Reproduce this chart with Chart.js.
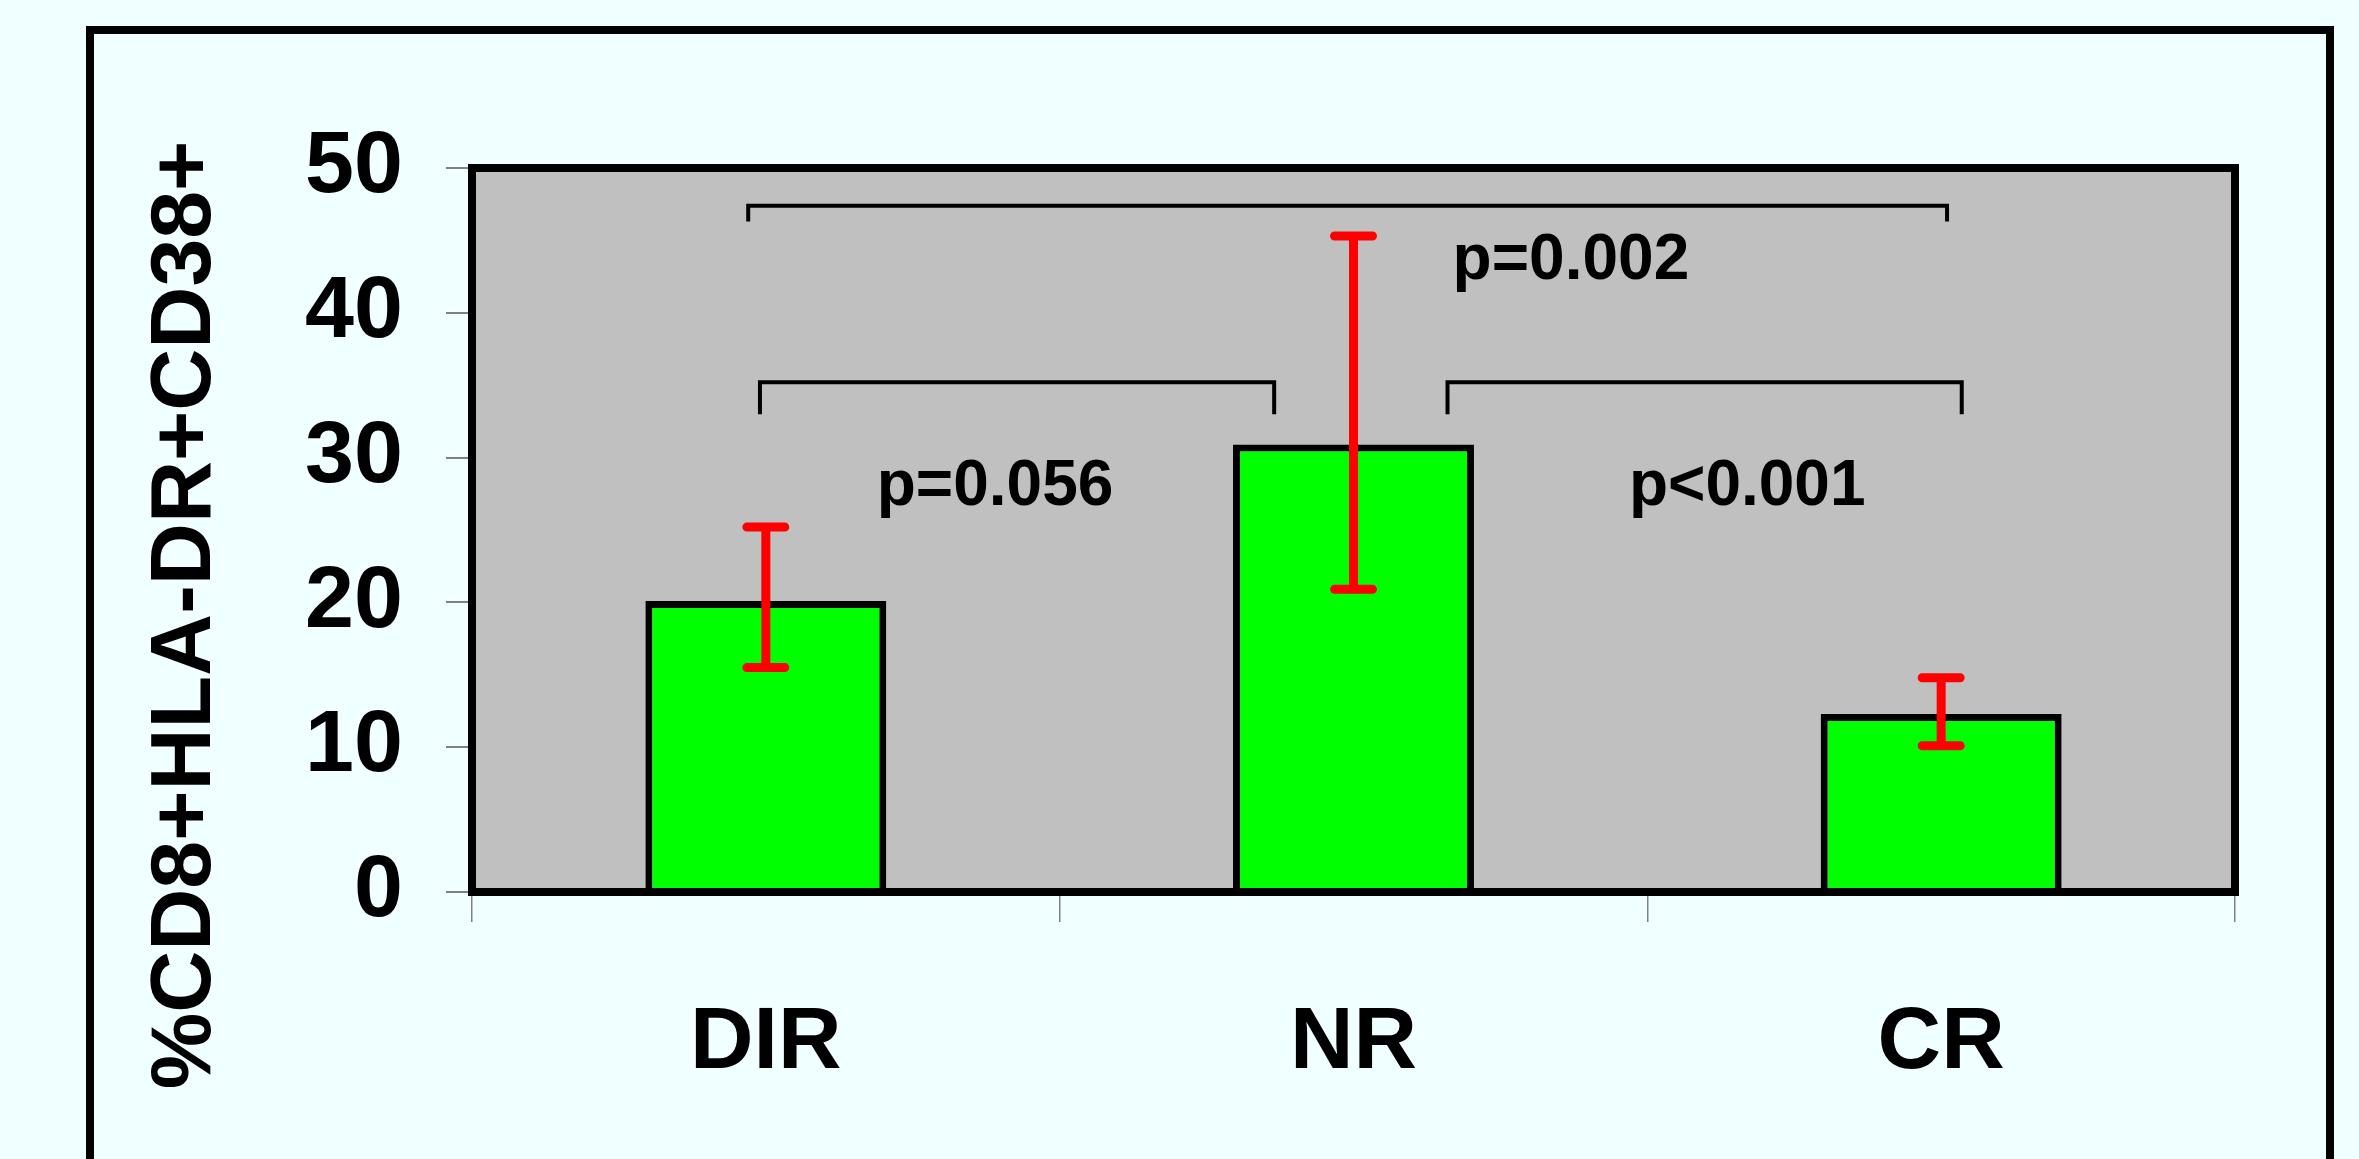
<!DOCTYPE html>
<html><head><meta charset="utf-8">
<script src="https://cdn.jsdelivr.net/npm/chart.js@4.4.1/dist/chart.umd.min.js"></script>
<style>
html,body{margin:0;padding:0;background:#F0FFFF;overflow:hidden;}
#wrap{position:relative;width:2359px;height:1159px;}
</style></head><body>
<div id="wrap"><canvas id="c"></canvas></div>
<script>
// ---- data ----
const categories = ['DIR', 'NR', 'CR'];
const meanValues = [20.1, 30.9, 12.3];
const errorUpper = [25.2, 45.3, 14.8];
const errorLower = [15.5, 20.9, 10.1];
const yTickValues = [0, 10, 20, 30, 40, 50];
const yAxisTitle = '%CD8+HLA-DR+CD38+';
// significance annotations
const pLabels = ['p=0.056', 'p=0.002', 'p<0.001'];
const pLabelCat = [0.39, 1.37, 1.67];      // position in category units
const pLabelVal = [26.7, 42.3, 26.7];      // baseline in value units
const bracketFrom = [-0.01, -0.03, 1.16];
const bracketTo   = [0.865, 2.01, 2.035];
const bracketTop  = [35.2, 47.4, 35.2];
const bracketFoot = [33.0, 46.3, 33.0];

const sansFont = "'Liberation Sans', Arial, sans-serif";

const decor = {
  id: 'decor',
  beforeDraw(chart) {
    const {ctx, chartArea: a} = chart;
    ctx.save();
    ctx.fillStyle = '#F0FFFF';
    ctx.fillRect(0, 0, chart.width, chart.height);
    ctx.strokeStyle = '#000';
    ctx.lineWidth = 8;
    ctx.strokeRect(90, 30, 2240, 1200);
    ctx.fillStyle = '#C0C0C0';
    ctx.fillRect(a.left, a.top, a.right - a.left, a.bottom - a.top);
    ctx.restore();
  },
  afterDatasetsDraw(chart) {
    const {ctx, chartArea: a, scales: {x, y}} = chart;
    ctx.save();
    // plot border
    ctx.strokeStyle = '#000';
    ctx.lineWidth = 8;
    ctx.strokeRect(a.left, a.top, a.right - a.left, a.bottom - a.top);
    // brackets
    ctx.lineWidth = 4;
    ctx.lineJoin = 'miter';
    for (let i = 0; i < bracketFrom.length; i++) {
      const x1 = x.getPixelForValue(bracketFrom[i]);
      const x2 = x.getPixelForValue(bracketTo[i]);
      const yt = y.getPixelForValue(bracketTop[i]);
      const yf = y.getPixelForValue(bracketFoot[i]);
      ctx.beginPath();
      ctx.moveTo(x1, yf); ctx.lineTo(x1, yt); ctx.lineTo(x2, yt); ctx.lineTo(x2, yf);
      ctx.stroke();
    }
    // error bars
    ctx.strokeStyle = '#FF0000';
    ctx.lineWidth = 9;
    categories.forEach((c, i) => {
      const px = x.getPixelForValue(i);
      const yt = y.getPixelForValue(errorUpper[i]);
      const yb = y.getPixelForValue(errorLower[i]);
      ctx.lineCap = 'butt';
      ctx.beginPath(); ctx.moveTo(px, yt); ctx.lineTo(px, yb); ctx.stroke();
      ctx.lineCap = 'round';
      ctx.beginPath();
      ctx.moveTo(px - 19, yt); ctx.lineTo(px + 19, yt);
      ctx.moveTo(px - 19, yb); ctx.lineTo(px + 19, yb);
      ctx.stroke();
    });
    // p-value labels
    ctx.fillStyle = '#000';
    ctx.font = 'bold 64px ' + sansFont;
    ctx.textAlign = 'center';
    ctx.textBaseline = 'alphabetic';
    pLabels.forEach((t, i) => {
      ctx.fillText(t, x.getPixelForValue(pLabelCat[i]), y.getPixelForValue(pLabelVal[i]));
    });
    // y axis title
    ctx.translate(186, 615);
    ctx.rotate(-Math.PI / 2);
    ctx.textBaseline = 'middle';
    ctx.font = 'bold 86px ' + sansFont;
    ctx.fillText(yAxisTitle, 0, 0);
    ctx.restore();
  }
};

new Chart(document.getElementById('c'), {
  type: 'bar',
  data: {
    labels: categories,
    datasets: [{
      data: meanValues,
      backgroundColor: '#00FF00',
      borderColor: '#000000',
      borderWidth: 7,
      barPercentage: 0.41,
      categoryPercentage: 1.0
    }]
  },
  options: {
    responsive: true,
    maintainAspectRatio: false,
    animation: false,
    layout: {padding: {top: 168, right: 124, bottom: 0, left: 0}},
    plugins: {legend: {display: false}, tooltip: {enabled: false}},
    scales: {
      x: {
        grid: {offset: true, drawOnChartArea: false, drawTicks: true, tickLength: 30, color: '#808080', lineWidth: 1.5},
        border: {display: false},
        ticks: {padding: 69, color: '#000', font: {family: sansFont, size: 88, weight: 'bold'}},
        afterFit(s) { s.height = 1159 - 892; }
      },
      y: {
        min: 0, max: 50,
        afterBuildTicks(s) { s.ticks = yTickValues.map(v => ({value: v})); },
        ticks: {padding: 43, color: '#000', font: {family: sansFont, size: 88, weight: 'bold'}},
        grid: {drawOnChartArea: false, tickLength: 26, color: '#808080', lineWidth: 2},
        border: {display: false},
        afterFit(s) { s.width = 472; }
      }
    }
  },
  plugins: [decor]
});
</script>
</body></html>
